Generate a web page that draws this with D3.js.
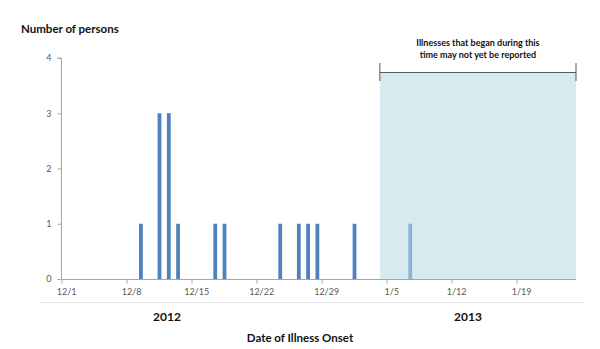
<!DOCTYPE html>
<html>
<head>
<meta charset="utf-8">
<script src="https://cdn.jsdelivr.net/npm/d3@7"></script>
<style>
  html, body { margin: 0; padding: 0; background: #fff; }
  svg { display: block; }
  text { font-family: Lato, "Open Sans", sans-serif; }
</style>
</head>
<body>
<svg id="chart" width="600" height="349"></svg>
<script>
// Illness onset dates and number of persons per day
const onsetDates = ["2012-12-09", "2012-12-11", "2012-12-12", "2012-12-13", "2012-12-17",
                    "2012-12-18", "2012-12-24", "2012-12-26", "2012-12-27", "2012-12-28",
                    "2013-01-01", "2013-01-07"];
const personCounts = [1, 3, 3, 1, 1, 1, 1, 1, 1, 1, 1, 1];

// Axis tick labels (weekly)
const tickDates = ["2012-12-01", "2012-12-08", "2012-12-15", "2012-12-22", "2012-12-29",
                   "2013-01-05", "2013-01-12", "2013-01-19"];
const yTicks = [0, 1, 2, 3, 4];

// Reporting-lag window
const lagStart = "2013-01-04";
const lagEnd = "2013-01-25";

const parse = d3.timeParse("%Y-%m-%d");
const fmt = d3.timeFormat("%-m/%-d");
const origin = parse("2012-12-01");
const dayIndex = s => d3.timeDay.count(origin, parse(s));

const svg = d3.select("#chart");
const x = d3.scaleLinear().domain([0, 55.35]).range([62, 576]);
const y = d3.scaleLinear().domain([0, 4]).range([279, 58]);

const BLUE = "#4f81bd";
const LIGHT_BLUE = "#8fb3d2";
const SHADE = "#d7eaee";
const AXIS = "#a6a6a6";

// Shaded window where reporting may be incomplete
const shadeX0 = x(dayIndex(lagStart) + 0.23);
const shadeX1 = x(dayIndex(lagEnd) + 0.35);
const shadeTop = 73;
svg.append("rect")
  .attr("x", shadeX0).attr("y", shadeTop)
  .attr("width", shadeX1 - shadeX0).attr("height", y(0) - shadeTop)
  .attr("fill", SHADE);

// Bracket above the window
const br = svg.append("g").attr("stroke", "#595959").attr("stroke-width", 1).attr("fill", "none");
br.append("line").attr("x1", shadeX0).attr("x2", shadeX1).attr("y1", 72.5).attr("y2", 72.5);
br.append("line").attr("x1", shadeX0).attr("x2", shadeX0).attr("y1", 63).attr("y2", 81);
br.append("line").attr("x1", shadeX1).attr("x2", shadeX1).attr("y1", 63).attr("y2", 81);

const note = svg.append("text")
  .attr("x", (shadeX0 + shadeX1) / 2).attr("y", 46)
  .attr("text-anchor", "middle")
  .attr("font-size", 9).attr("font-weight", "bold").attr("fill", "#111");
note.append("tspan").attr("x", (shadeX0 + shadeX1) / 2).attr("dy", 0).text("Illnesses that began during this");
note.append("tspan").attr("x", (shadeX0 + shadeX1) / 2).attr("dy", 11.5).text("time may not yet be reported");

// Bars
const barW = 3.8;
const bars = onsetDates.map((d, i) => ({ day: dayIndex(d), n: personCounts[i] }));
svg.append("g").selectAll("rect")
  .data(bars)
  .join("rect")
  .attr("x", d => x(d.day + 0.5) - barW / 2)
  .attr("y", d => y(d.n))
  .attr("width", barW)
  .attr("height", d => y(0) - y(d.n))
  .attr("fill", d => d.day >= dayIndex(lagStart) ? LIGHT_BLUE : BLUE);

// Y axis
const yAxis = d3.axisLeft(y).tickValues(yTicks).tickSize(4).tickPadding(6).tickFormat(d3.format("d"));
const gy = svg.append("g").attr("transform", "translate(61.5,0)").call(yAxis);
gy.select(".domain").attr("stroke", AXIS).attr("d", `M-4,${y(4)}H0V${y(0)}`);
gy.selectAll(".tick line").attr("stroke", AXIS);
gy.selectAll(".tick text").attr("fill", "#595959").attr("font-size", 9).attr("font-family", "Lato, sans-serif");

// X axis: ticks on week boundaries, labels centred on the day
const weekDays = tickDates.map(dayIndex);
const gx = svg.append("g").attr("transform", `translate(0,${y(0) + 0.5})`);
gx.append("line").attr("x1", x(0)).attr("x2", x(55.35)).attr("stroke", AXIS);
gx.selectAll("line.tk").data(weekDays).join("line").attr("class", "tk")
  .attr("x1", d => x(d)).attr("x2", d => x(d)).attr("y1", 0).attr("y2", 4).attr("stroke", AXIS);
gx.selectAll("text").data(tickDates).join("text")
  .attr("x", d => x(dayIndex(d) + 0.5)).attr("y", 15)
  .attr("text-anchor", "middle").attr("font-size", 9).attr("fill", "#595959")
  .text(d => fmt(parse(d)));

// Year separator line and year labels
svg.append("line").attr("x1", 40).attr("x2", 583).attr("y1", 302.5).attr("y2", 302.5)
  .attr("stroke", "#e6e6e6");
svg.append("text").attr("x", 167).attr("y", 321).attr("text-anchor", "middle")
  .attr("font-size", 12).attr("font-weight", "bold").attr("fill", "#111").text("2012");
svg.append("text").attr("x", 468).attr("y", 321).attr("text-anchor", "middle")
  .attr("font-size", 12).attr("font-weight", "bold").attr("fill", "#111").text("2013");

// Axis titles
svg.append("text").attr("x", 21).attr("y", 33)
  .attr("font-size", 11.5).attr("font-weight", "bold").attr("fill", "#111").text("Number of persons");
svg.append("text").attr("x", 300).attr("y", 342).attr("text-anchor", "middle")
  .attr("font-size", 11.5).attr("font-weight", "bold").attr("fill", "#111").text("Date of Illness Onset");
</script>
</body>
</html>
